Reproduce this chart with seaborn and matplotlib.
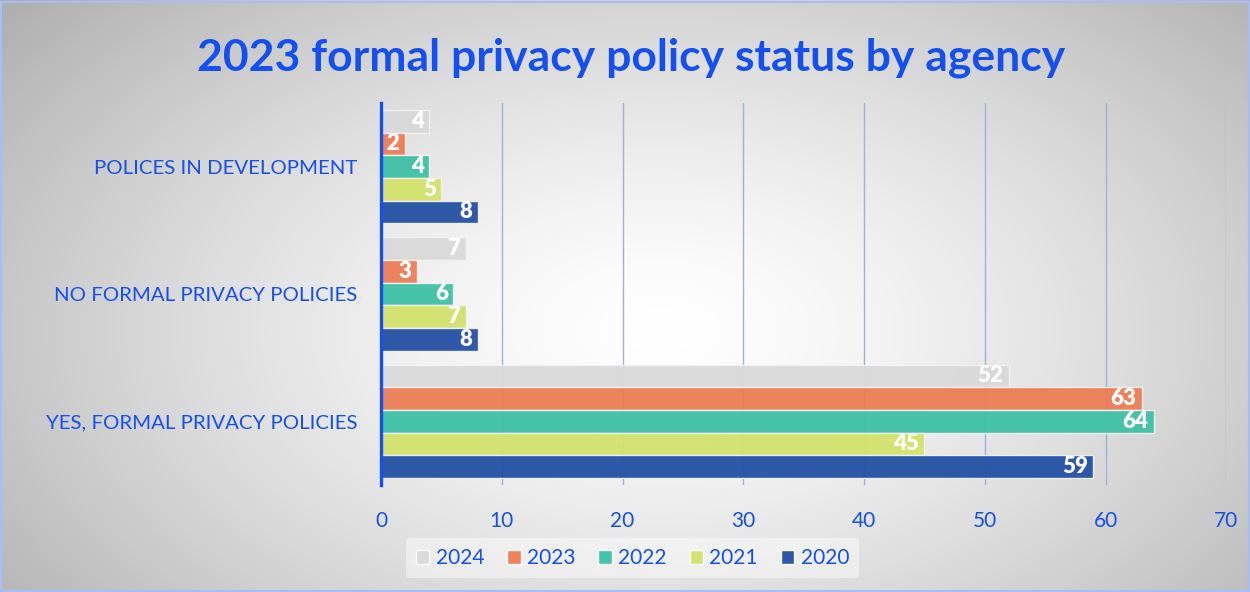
import numpy as np
import pandas as pd
import matplotlib
matplotlib.use("Agg")
import matplotlib.pyplot as plt
import seaborn as sns
from matplotlib.patches import Rectangle

# data
categories = ["POLICES IN DEVELOPMENT", "NO FORMAL PRIVACY POLICIES", "YES, FORMAL PRIVACY POLICIES"]
years = ["2024", "2023", "2022", "2021", "2020"]
v2024 = [4, 7, 52]
v2023 = [2, 3, 63]
v2022 = [4, 6, 64]
v2021 = [5, 7, 45]
v2020 = [8, 8, 59]
x_ticks = [0, 10, 20, 30, 40, 50, 60, 70]

colors = {"2024": "#d9d9d9", "2023": "#ed7d55", "2022": "#3ec1a6",
          "2021": "#d3e26b", "2020": "#2451a4"}
blue = "#1450f0"

rows = []
for yr, vals in zip(years, [v2024, v2023, v2022, v2021, v2020]):
    for cat, v in zip(categories, vals):
        rows.append({"category": cat, "year": yr, "value": v})
df = pd.DataFrame(rows)

sns.set_style("white")
plt.rcParams["font.family"] = ["Lato", "DejaVu Sans"]

fig = plt.figure(figsize=(12.5, 5.92), dpi=100)

# radial grey gradient background
bg = fig.add_axes([0, 0, 1, 1], zorder=-10)
yy, xx = np.mgrid[0:592, 0:1250]
r = np.sqrt(((xx - 660) / 700.0) ** 2 + ((yy - 330) / 420.0) ** 2)
shade = 1.0 - 0.24 * np.clip(r, 0, 1.3) ** 1.4
bg.imshow(np.dstack([shade] * 3), aspect="auto", extent=[0, 1, 0, 1])
bg.set_axis_off()
fig.patches.append(Rectangle((0.001, 0.001), 0.998, 0.996, transform=fig.transFigure,
                             fill=False, edgecolor="#a8bdf5", linewidth=1.5))

ax = fig.add_axes([0.3048, 0.181, 0.6762, 0.645])
ax.set_facecolor("none")
sns.barplot(data=df, y="category", x="value", hue="year", hue_order=years,
            order=categories, palette=colors, orient="h", width=0.89, saturation=1,
            alpha=0.95, edgecolor="#f2f2f2", linewidth=1, ax=ax, zorder=3)

for cont in ax.containers:
    for bar in cont:
        w = bar.get_width()
        ax.annotate(f"{w:g}", xy=(w, bar.get_y() + bar.get_height() / 2),
                    xytext=(-4, 0), textcoords="offset points", ha="right",
                    va="center", color="white", fontsize=16, fontweight="heavy", zorder=5)

ax.set_xlim(0, 70)
ax.set_xticks(x_ticks)
ax.grid(axis="x", color="#9fb0dd", linewidth=1, zorder=0)
ax.set_axisbelow(True)
for s in ["top", "right", "bottom"]:
    ax.spines[s].set_visible(False)
ax.spines["left"].set_color(blue)
ax.spines["left"].set_linewidth(2.4)
ax.spines["left"].set_zorder(6)
ax.tick_params(axis="x", length=0, pad=19, labelsize=15, labelcolor=blue)
ax.tick_params(axis="y", length=0, pad=17, labelsize=14.7, labelcolor=blue)
ax.set_xlabel("")
ax.set_ylabel("")

fig.text(0.505, 1 - 58 / 592, "2023 formal privacy policy status by agency",
         ha="center", va="center", fontsize=32, fontweight="bold", color=blue)

ax.legend_.remove()
handles = [plt.Rectangle((0, 0), 1, 1, facecolor=colors[y], edgecolor="white", alpha=0.95) for y in years]
leg = fig.legend(handles, years, loc="center", bbox_to_anchor=(0.506, 1 - 558 / 592),
                 ncol=5, frameon=True, fontsize=15, handlelength=0.65, handleheight=0.65,
                 handletextpad=0.3, columnspacing=1.1, borderpad=0.5)
leg.get_frame().set_facecolor("white")
leg.get_frame().set_alpha(0.45)
leg.get_frame().set_edgecolor("none")
for t in leg.get_texts():
    t.set_color(blue)

fig.savefig("out.png", dpi=100)
